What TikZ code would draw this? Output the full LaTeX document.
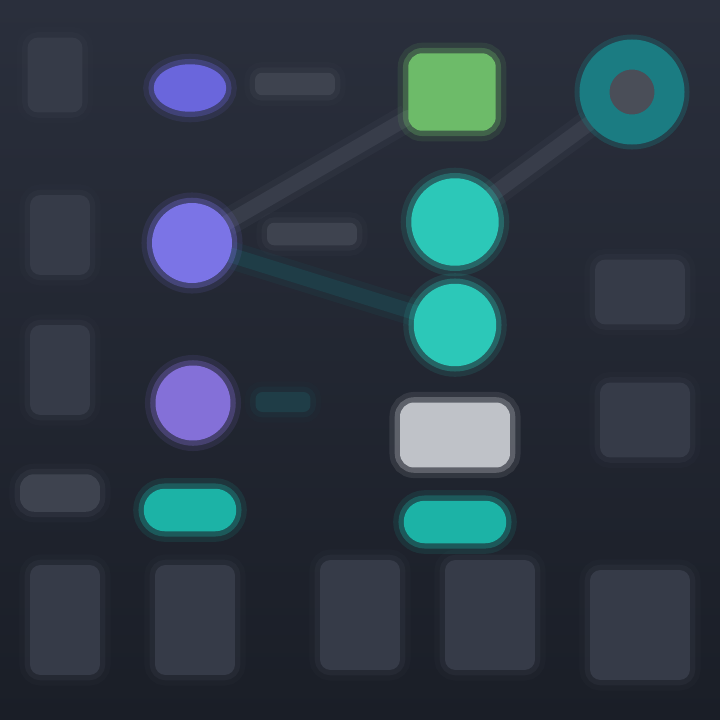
\documentclass[tikz,border=0pt]{standalone}
\usetikzlibrary{shapes.geometric,backgrounds}
\definecolor{bgtop}{HTML}{2A2F3C}
\definecolor{bgbot}{HTML}{1A1E27}
\definecolor{dimgray}{HTML}{363B48}
\definecolor{bargray}{HTML}{3E434F}
\definecolor{purpA}{HTML}{6A66DC}
\definecolor{purpB}{HTML}{7B74E6}
\definecolor{purpC}{HTML}{8470D8}
\definecolor{tealA}{HTML}{2CC8B8}
\definecolor{tealB}{HTML}{1CB3A6}
\definecolor{ringteal}{HTML}{1B7C82}
\definecolor{ringcore}{HTML}{4A4E58}
\definecolor{leaf}{HTML}{6DBB69}
\definecolor{paper}{HTML}{BFC2C8}
\definecolor{linkgray}{HTML}{383D4A}
\definecolor{linkteal}{HTML}{1F3D47}
\tikzset{
  soft/.style={fill=#1,
    preaction={draw=#1,line width=12pt,draw opacity=.12},
    preaction={draw=#1,line width=6pt,draw opacity=.3}},
  blob/.style={soft=dimgray,rounded corners=6pt},
  bar/.style={soft=bargray,rounded corners=4pt,minimum height=0.45cm},
  dot/.style={circle,inner sep=0pt},
  link/.style={line width=0.3cm,draw=#1,line cap=round,
    preaction={draw=#1,line width=0.55cm,draw opacity=.35}},
  link/.default=linkgray,
}
\begin{document}
\begin{tikzpicture}[x=0.02cm,y=-0.02cm]
	\useasboundingbox (0,0) rectangle (720,720);
	% faint blocks on the left
	\node[blob,minimum width=1.1cm,minimum height=1.5cm] (la) at (55,75) {};
	\node[blob,minimum width=1.2cm,minimum height=1.6cm] (lb) at (60,235) {};
	\node[blob,minimum width=1.2cm,minimum height=1.8cm] (lc) at (60,370) {};
	\node[soft=bargray,rounded corners=8pt,minimum width=1.6cm,minimum height=0.75cm] (ld) at (60,493) {};
	% faint blocks on the right
	\node[blob,minimum width=1.8cm,minimum height=1.3cm] (ra) at (640,292) {};
	\node[blob,minimum width=1.8cm,minimum height=1.5cm] (rb) at (645,420) {};
	% bottom row
	\node[blob,minimum width=1.4cm,minimum height=2.2cm] (ba) at (65,620) {};
	\node[blob,minimum width=1.6cm,minimum height=2.2cm] (bb) at (195,620) {};
	\node[blob,minimum width=1.6cm,minimum height=2.2cm] (bc) at (360,615) {};
	\node[blob,minimum width=1.8cm,minimum height=2.2cm] (bd) at (490,615) {};
	\node[blob,minimum width=2.0cm,minimum height=2.2cm] (be) at (640,625) {};
	% main shapes
	\node[soft=purpA,ellipse,minimum width=1.45cm,minimum height=0.95cm] (p1) at (190,88) {};
	\node[soft=purpB,dot,minimum size=1.6cm] (p2) at (192,243) {};
	\node[soft=purpC,dot,minimum size=1.5cm] (p3) at (193,403) {};
	\node[soft=tealB,rounded corners=0.42cm,minimum width=1.85cm,minimum height=0.85cm] (pl) at (190,510) {};
	\node[soft=leaf,rounded corners=8pt,minimum width=1.75cm,minimum height=1.55cm] (sq) at (452,92) {};
	\node[dot,minimum size=1.5cm,draw=ringteal,line width=0.6cm,fill=ringcore,
	      preaction={draw=ringteal,line width=0.8cm,draw opacity=.3}] (ring) at (632,92) {};
	\node[soft=tealA,dot,minimum size=1.75cm] (t1) at (455,222) {};
	\node[soft=tealA,dot,minimum size=1.65cm] (t2) at (455,325) {};
	\node[soft=paper,rounded corners=8pt,minimum width=2.2cm,minimum height=1.3cm] (card) at (455,435) {};
	\node[soft=tealB,rounded corners=0.42cm,minimum width=2.05cm,minimum height=0.85cm] (pr) at (455,522) {};
	% label bars
	\node[bar,minimum width=1.6cm] (b1) at (295,84) {};
	\node[bar,minimum width=1.8cm] (b2) at (312,234) {};
	\node[soft=linkteal,rounded corners=4pt,minimum width=1.1cm,minimum height=0.4cm] (b3) at (283,402) {};
	% connectors, behind the shapes
	\begin{scope}[on background layer]
	\shade[top color=bgtop,bottom color=bgbot] (0,0) rectangle (720,720);
	\draw[link] (sq) -- (p2);
	\draw[link] (ring) -- (t1);
	\draw[link=linkteal] (p2) -- (t2);
	\end{scope}
\end{tikzpicture}
\end{document}
